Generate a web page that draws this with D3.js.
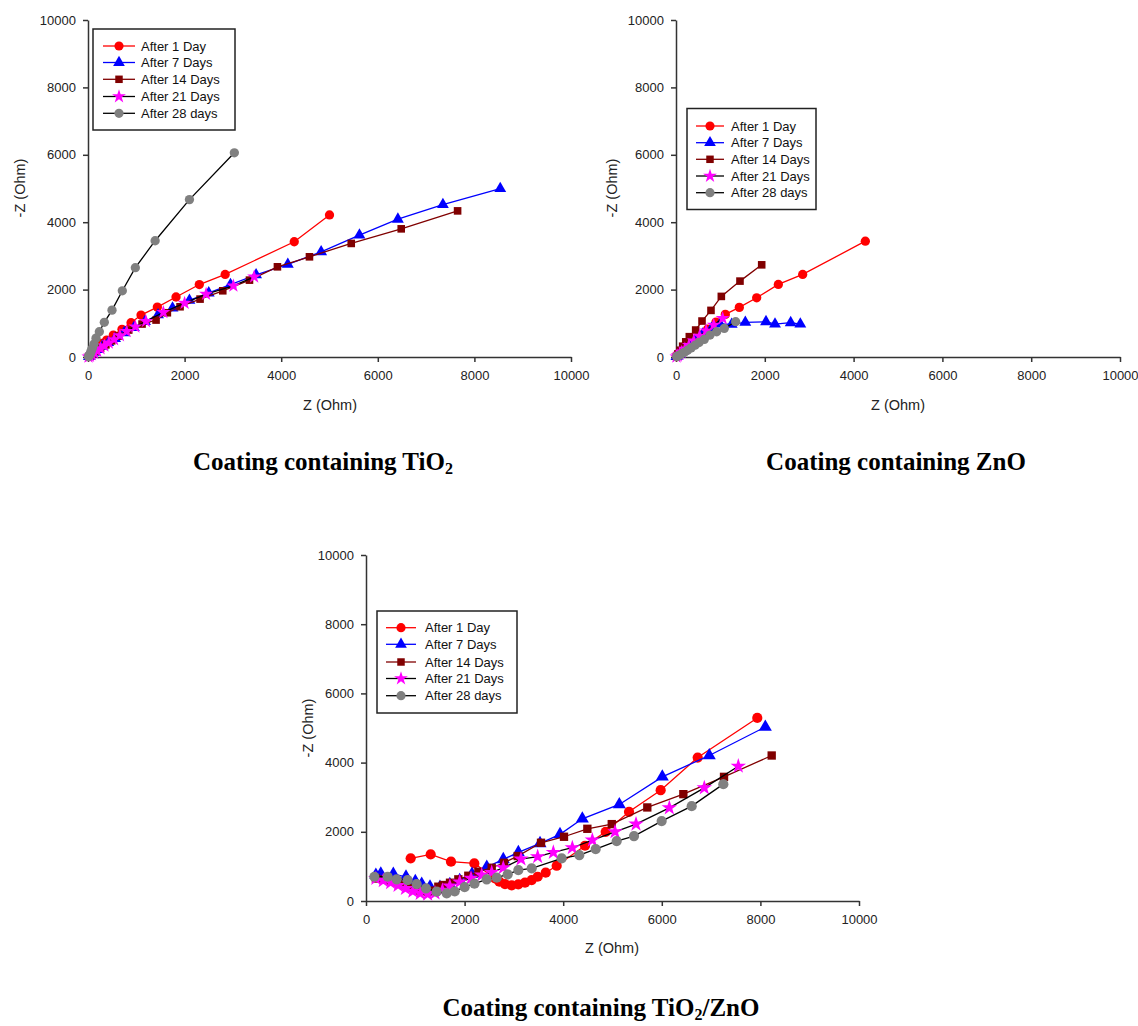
<!DOCTYPE html>
<html>
<head>
<meta charset="utf-8">
<script src="https://cdn.jsdelivr.net/npm/d3@7"></script>
<style>
  body { margin: 0; background: #fff; }
  .tick text { font-family: "Liberation Sans", Arial, sans-serif; font-size: 13px; fill: #222; }
  .axis path, .axis line { stroke: #333; stroke-width: 1.5px; }
  .aText { font-family: "Liberation Sans", Arial, sans-serif; font-size: 14.5px; fill: #222; text-anchor: middle; }
  .legText { font-family: "Liberation Sans", Arial, sans-serif; font-size: 13px; fill: #111; }
  .caption { font-family: "Liberation Serif", "Times New Roman", serif; font-weight: bold; font-size: 25px; fill: #000; text-anchor: middle; }
</style>
</head>
<body>
<div id="chart"></div>
<script>
// legend names, same order in all three panels
var seriesNames = ["After 1 Day", "After 7 Days", "After 14 Days", "After 21 Days", "After 28 days"];
var axisTicks = [0, 2000, 4000, 6000, 8000, 10000];

// coating with TiO2  [Z, -Z]
var tio2Day1 = [[15,15],[40,50],[70,100],[110,160],[160,230],[220,310],[290,400],[387,500],[525,650],[704,820],[891,1017],[1098,1245],[1436,1480],[1823,1780],[2305,2150],[2840,2450],[4270,3420],[5000,4215]];
var tio2Day7 = [[20,15],[60,70],[120,140],[200,220],[300,320],[420,430],[560,550],[750,720],[950,870],[1180,1050],[1450,1250],[1750,1450],[2100,1680],[2500,1900],[2950,2150],[3480,2440],[4137,2747],[4827,3121],[5620,3615],[6416,4089],[7348,4523],[8535,4998]];
var tio2Day14 = [[15,10],[50,45],[100,95],[170,170],[260,260],[370,360],[490,480],[628,620],[843,800],[1119,978],[1409,1096],[1643,1313],[1906,1491],[2320,1718],[2790,1965],[3343,2281],[3922,2676],[4585,2973],[5450,3370],[6485,3803],[7652,4336]];
var tio2Day21 = [[10,5],[40,30],[80,70],[130,120],[190,180],[260,250],[340,330],[430,420],[540,520],[660,640],[800,760],[980,900],[1200,1060],[1560,1324],[2000,1600],[2445,1867],[3010,2110],[3440,2380]];
var tio2Day28 = [[10,10],[25,40],[40,80],[55,130],[70,190],[90,260],[124,385],[166,560],[235,750],[338,1030],[497,1390],[711,1965],[980,2650],[1390,3450],[2100,4670],[3030,6060]];

// coating with ZnO
var znoDay1 = [[10,10],[30,40],[70,100],[130,180],[200,270],[290,380],[400,500],[541,652],[713,830],[901,1037],[1111,1264],[1426,1472],[1817,1757],[2305,2153],[2853,2450],[4264,3437]];
var znoDay7 = [[10,10],[30,30],[80,90],[150,170],[230,270],[330,390],[450,520],[600,680],[800,850],[991,980],[1254,968],[1561,1027],[2027,1047],[2230,978],[2583,1017],[2800,978]];
var znoDay14 = [[10,20],[40,90],[90,200],[150,320],[220,450],[300,603],[443,800],[586,1067],[788,1383],[1021,1798],[1441,2252],[1930,2735]];
var znoDay21 = [[10,10],[40,40],[80,90],[130,150],[200,240],[290,350],[400,480],[530,620],[680,780],[850,950],[1051,1146]];
var znoDay28 = [[15,10],[40,25],[80,55],[130,95],[190,140],[260,200],[340,270],[430,350],[520,430],[638,524],[766,652],[916,750],[1088,850],[1344,1047]];

// coating with TiO2/ZnO
var mixDay1 = [[906,1232],[1312,1347],[1724,1135],[2197,1087],[2617,655],[2705,557],[2820,490],[2955,453],[3090,481],[3225,528],[3360,606],[3482,701],[3645,817],[3868,1019],[4442,1597],[4862,2000],[5335,2577],[5977,3203],[6728,4146],[7937,5290]];
var mixDay7 = [[200,750],[300,790],[554,779],[811,701],[1000,570],[1130,490],[1298,413],[1500,400],[1700,480],[1900,600],[2150,780],[2450,980],[2785,1203],[3090,1405],[3530,1665],[3935,1925],[4388,2376],[5138,2790],[6010,3588],[6963,4205],[8100,5030]];
var mixDay14 = [[200,650],[350,620],[500,590],[650,540],[800,450],[950,370],[1100,300],[1250,270],[1350,300],[1467,413],[1568,462],[1704,528],[1873,626],[2075,730],[2280,846],[2550,961],[2800,1105],[3077,1299],[3550,1683],[4016,1857],[4490,2087],[4985,2222],[5706,2704],[6437,3088],[7262,3588],[8229,4205]];
var mixDay21 = [[200,650],[350,590],[500,530],[650,450],[800,360],[950,280],[1100,220],[1250,200],[1400,230],[1550,310],[1700,430],[1900,550],[2130,654],[2347,750],[2550,827],[2785,961],[3144,1212],[3482,1280],[3800,1405],[4185,1539],[4591,1760],[5051,2000],[5477,2222],[6153,2693],[6862,3271],[7552,3896]];
var mixDay28 = [[169,701],[440,701],[622,626],[845,606],[1028,490],[1217,366],[1433,270],[1637,222],[1800,280],[2000,400],[2200,500],[2448,626],[2651,673],[2874,770],[3090,895],[3361,944],[3969,1232],[4327,1328],[4659,1500],[5085,1732],[5436,1876],[5997,2309],[6606,2742],[7248,3377]];

// look of each series
var styles = [
  { line: "#ff0000", fill: "#ff0000", sym: d3.symbolCircle, size: 1.0 },
  { line: "#0000ff", fill: "#0000ff", sym: d3.symbolTriangle, size: 0.9 },
  { line: "#800000", fill: "#800000", sym: d3.symbolSquare, size: 0.85 },
  { line: "#000000", fill: "#ff00ff", sym: d3.symbolStar, size: 0.9 },
  { line: "#000000", fill: "#808080", sym: d3.symbolCircle, size: 1.0 }
];

var panels = [
  { x0: 88, x1: 571, y0: 357, y1: 20, mark: 68,
    series: [tio2Day1, tio2Day7, tio2Day14, tio2Day21, tio2Day28],
    legend: { x: 93, y: 29, w: 142, h: 101, rows: [46, 62.5, 79.3, 96.5, 113.3], lx0: 103, lx1: 135, tx: 141 },
    xlab: { x: 330, y: 410 }, ylab: { x: 20, y: 188 },
    caption: { x: 323, y: 470, main: "Coating containing TiO", sub: "2", tail: "" } },
  { x0: 676, x1: 1120, y0: 357, y1: 20, mark: 68,
    series: [znoDay1, znoDay7, znoDay14, znoDay21, znoDay28],
    legend: { x: 687, y: 108.5, w: 129, h: 101, rows: [126, 142.7, 159.3, 176, 192.7], lx0: 696, lx1: 724, tx: 731 },
    xlab: { x: 898, y: 410 }, ylab: { x: 612, y: 188 },
    caption: { x: 896, y: 470, main: "Coating containing ZnO", sub: "", tail: "" } },
  { x0: 366, x1: 859, y0: 901, y1: 555, mark: 82,
    series: [mixDay1, mixDay7, mixDay14, mixDay21, mixDay28],
    legend: { x: 377, y: 611, w: 140, h: 102, rows: [627.7, 644.3, 662, 678.5, 695.7], lx0: 386, lx1: 416, tx: 425 },
    xlab: { x: 612, y: 953 }, ylab: { x: 308, y: 728 },
    caption: { x: 601, y: 1016, main: "Coating containing TiO", sub: "2", tail: "/ZnO" } }
];

var svg = d3.select("#chart").append("svg")
  .attr("width", 1138)
  .attr("height", 1026)
  .style("background", "#fff");

panels.forEach(function(p) {
  var x = d3.scaleLinear().domain([0, 10000]).range([p.x0, p.x1]);
  var y = d3.scaleLinear().domain([0, 10000]).range([p.y0, p.y1]);
  var g = svg.append("g");

  // axes
  g.append("g")
    .attr("class", "axis")
    .attr("transform", `translate(0, ${p.y0})`)
    .call(d3.axisBottom(x).tickValues(axisTicks).tickSize(5).tickSizeOuter(0).tickPadding(9).tickFormat(d3.format("d")));
  g.append("g")
    .attr("class", "axis")
    .attr("transform", `translate(${p.x0}, 0)`)
    .call(d3.axisLeft(y).tickValues(axisTicks).tickSize(5).tickSizeOuter(0).tickPadding(7).tickFormat(d3.format("d")));

  g.append("text").attr("class", "aText")
    .attr("x", p.xlab.x).attr("y", p.xlab.y).text("Z (Ohm)");
  g.append("text").attr("class", "aText")
    .attr("transform", `translate(${p.ylab.x + 5}, ${p.ylab.y}) rotate(-90)`)
    .text("-Z (Ohm)");

  var line = d3.line().x(d => x(d[0])).y(d => y(d[1]));

  p.series.forEach(function(data, i) {
    var s = styles[i];
    g.append("path")
      .datum(data)
      .attr("d", line)
      .attr("fill", "none")
      .attr("stroke", s.line)
      .attr("stroke-width", 1.3);
    g.append("g").selectAll("path")
      .data(data).enter().append("path")
      .attr("transform", d => `translate(${x(d[0])}, ${y(d[1])})`)
      .attr("d", d3.symbol().type(s.sym).size(p.mark * s.size))
      .attr("fill", s.fill);
  });

  // legend box
  var L = p.legend;
  var leg = g.append("g");
  leg.append("rect")
    .attr("x", L.x).attr("y", L.y).attr("width", L.w).attr("height", L.h)
    .attr("fill", "#fff").attr("stroke", "#222").attr("stroke-width", 1.5);
  seriesNames.forEach(function(name, i) {
    var s = styles[i];
    var ry = L.rows[i];
    leg.append("line")
      .attr("x1", L.lx0).attr("x2", L.lx1).attr("y1", ry).attr("y2", ry)
      .attr("stroke", s.line).attr("stroke-width", 1.3);
    leg.append("path")
      .attr("transform", `translate(${(L.lx0 + L.lx1) / 2}, ${ry})`)
      .attr("d", d3.symbol().type(s.sym).size(66 * s.size))
      .attr("fill", s.fill);
    leg.append("text").attr("class", "legText")
      .attr("x", L.tx).attr("y", ry).attr("dy", "0.36em")
      .text(name);
  });

  // caption under the panel
  var c = p.caption;
  var t = svg.append("text").attr("class", "caption")
    .attr("x", c.x).attr("y", c.y);
  t.append("tspan").text(c.main);
  if (c.sub) {
    t.append("tspan").attr("font-size", "16px").attr("dy", "4").text(c.sub);
    if (c.tail) t.append("tspan").attr("dy", "-4").text(c.tail);
  }
});
</script>
</body>
</html>
